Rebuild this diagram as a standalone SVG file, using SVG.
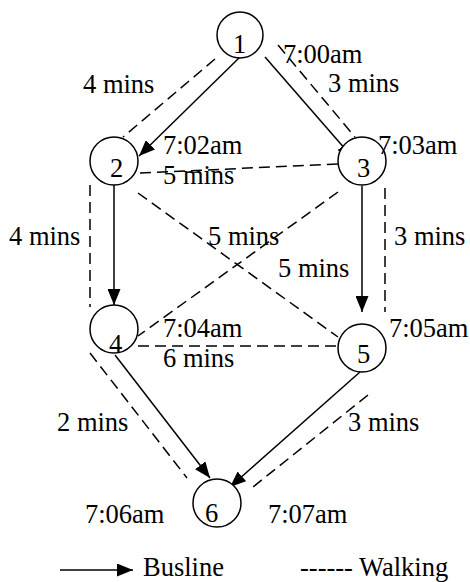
<svg xmlns="http://www.w3.org/2000/svg" width="470" height="582" viewBox="0 0 470 582" font-family="'Times New Roman', 'Liberation Serif', serif">
<style>
text{font-family:'Times New Roman','Liberation Serif',serif;font-size:26.5px;fill:#000}
.n circle{fill:#fff;stroke:#000;stroke-width:1.5}
.bus{stroke:#000;stroke-width:1.5;fill:none;marker-end:url(#ah)}
.walk{stroke:#000;stroke-width:1.5;fill:none;stroke-dasharray:11 6}
</style>
<defs>
<marker id="ah" markerUnits="userSpaceOnUse" markerWidth="17" markerHeight="13" refX="16" refY="6.5" orient="auto" viewBox="0 0 17 13">
<path d="M0,0 L16,6.5 L0,13 z" fill="#000"/>
</marker>
</defs>
<g id="connectors">
<path class="walk" d="M215,59 L123,137"/>
<path class="walk" d="M278,45 L355,137"/>
<path class="walk" d="M140,173 L338,164"/>
<path class="walk" d="M90,185 L90,307"/>
<path class="walk" d="M138,193 L338,337"/>
<path class="walk" d="M338,192 L138,336"/>
<path class="walk" d="M385,188 L385,312"/>
<path class="walk" d="M138,346 L337,346"/>
<path class="walk" d="M90,353 L187,478"/>
<path class="walk" d="M368,395 L253,487"/>
<path class="bus" d="M240,57 L139,156"/>
<path class="bus" d="M265,57 L353,158"/>
<path class="bus" d="M114,185 L114,305"/>
<path class="bus" d="M362,186 L362,312"/>
<path class="bus" d="M115,355 L210,478"/>
<path class="bus" d="M360,372 L230,487"/>
</g>
<g id="node1" class="n"><circle cx="240" cy="35" r="23"/><text x="233" y="53">1</text></g>
<g id="node2" class="n"><circle cx="114" cy="161" r="24"/><text x="110" y="177">2</text></g>
<g id="node3" class="n"><circle cx="362" cy="161" r="24"/><text x="357" y="177">3</text></g>
<g id="node4" class="n"><circle cx="114" cy="329" r="24"/><text x="109" y="353">4</text></g>
<g id="node5" class="n"><circle cx="362" cy="348" r="24"/><text x="357" y="363">5</text></g>
<g id="node6" class="n"><circle cx="217" cy="503" r="24"/><text x="205" y="522">6</text></g>
<g id="labels">
<text x="83" y="93">4 mins</text>
<text x="163" y="154">7:02am</text>
<text x="163" y="184">5 mins</text>
<text x="283" y="63">7:00am</text>
<text x="328" y="92">3 mins</text>
<text x="378" y="154">7:03am</text>
<text x="9" y="245">4 mins</text>
<text x="208" y="245">5 mins</text>
<text x="394" y="245">3 mins</text>
<text x="278" y="277">5 mins</text>
<text x="389" y="337">7:05am</text>
<text x="163" y="337">7:04am</text>
<text x="163" y="367">6 mins</text>
<text x="57" y="431">2 mins</text>
<text x="348" y="431">3 mins</text>
<text x="85" y="523">7:06am</text>
<text x="268" y="523">7:07am</text>
</g>
<g id="legend">
<path class="bus" d="M60,570 L133,570"/>
<text x="143" y="576">Busline</text>
<text x="300" y="576">------ Walking</text>
</g>
</svg>
